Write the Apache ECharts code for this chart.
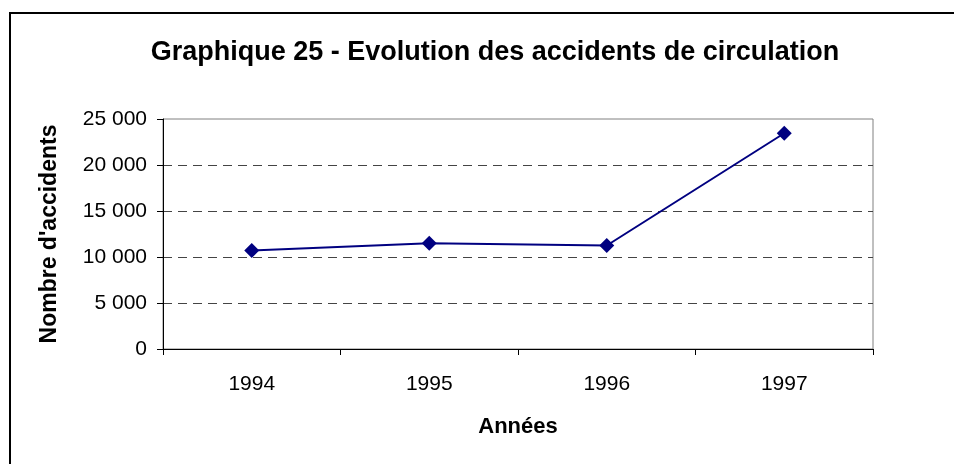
<!DOCTYPE html>
<html>
<head>
<meta charset="utf-8">
<script src="https://cdn.jsdelivr.net/npm/echarts@6/dist/echarts.min.js"></script>
<style>
  html, body { margin: 0; padding: 0; background: #fff; }
  #chart { width: 954px; height: 464px; }
</style>
</head>
<body>
<div id="chart"></div>
<script>
// Accidents de circulation par année
const years = ['1994', '1995', '1996', '1997'];
const accidents = [10700, 11500, 11250, 23450];
const yTicks = [0, 5000, 10000, 15000, 20000, 25000];

const FONT = '"Liberation Sans", Arial, sans-serif';

function formatThousands(v) {
  return String(v).replace(/\B(?=(\d{3})+(?!\d))/g, ' ');
}

const chart = echarts.init(document.getElementById('chart'), null, { renderer: 'canvas' });

chart.setOption({
  animation: false,
  backgroundColor: '#ffffff',
  title: {
    text: 'Graphique 25 - Evolution des accidents de circulation',
    left: 490,
    textAlign: 'center',
    top: 34,
    textStyle: { fontFamily: FONT, fontSize: 27, fontWeight: 'bold', color: '#000' }
  },
  graphic: [{
    type: 'rect',
    shape: { x: 10, y: 13, width: 1000, height: 1000 },
    style: { fill: 'none', stroke: '#000', lineWidth: 2 },
    silent: true
  }],
  grid: {
    left: 163, top: 119, width: 710, height: 230,
    show: true, borderColor: '#808080', borderWidth: 1, backgroundColor: 'transparent'
  },
  xAxis: {
    type: 'category',
    data: years,
    boundaryGap: true,
    name: 'Années',
    nameLocation: 'middle',
    nameGap: 67,
    nameTextStyle: { fontFamily: FONT, fontSize: 22, fontWeight: 'bold', color: '#000' },
    axisLine: { lineStyle: { color: '#000', width: 1 } },
    axisTick: { show: true, length: 6, alignWithLabel: false, lineStyle: { color: '#000' } },
    axisLabel: { fontFamily: FONT, fontSize: 21, color: '#000', margin: 25 },
    splitLine: { show: false }
  },
  yAxis: {
    type: 'value',
    min: yTicks[0],
    max: yTicks[yTicks.length - 1],
    interval: yTicks[1] - yTicks[0],
    name: "Nombre d'accidents",
    nameLocation: 'middle',
    nameGap: 102,
    nameTextStyle: { fontFamily: FONT, fontSize: 23, fontWeight: 'bold', color: '#000' },
    axisLine: { show: true, lineStyle: { color: '#000', width: 1 } },
    axisTick: { show: true, length: 6, lineStyle: { color: '#000' } },
    axisLabel: { fontFamily: FONT, fontSize: 21, color: '#000', margin: 16, formatter: formatThousands },
    splitLine: { show: true, showMinLine: false, showMaxLine: false, lineStyle: { color: '#444', type: [9, 6], width: 1 } }
  },
  series: [{
    type: 'line',
    data: accidents,
    symbol: 'diamond',
    symbolSize: 15,
    lineStyle: { color: '#000080', width: 2 },
    itemStyle: { color: '#000080' }
  }]
});
</script>
</body>
</html>
